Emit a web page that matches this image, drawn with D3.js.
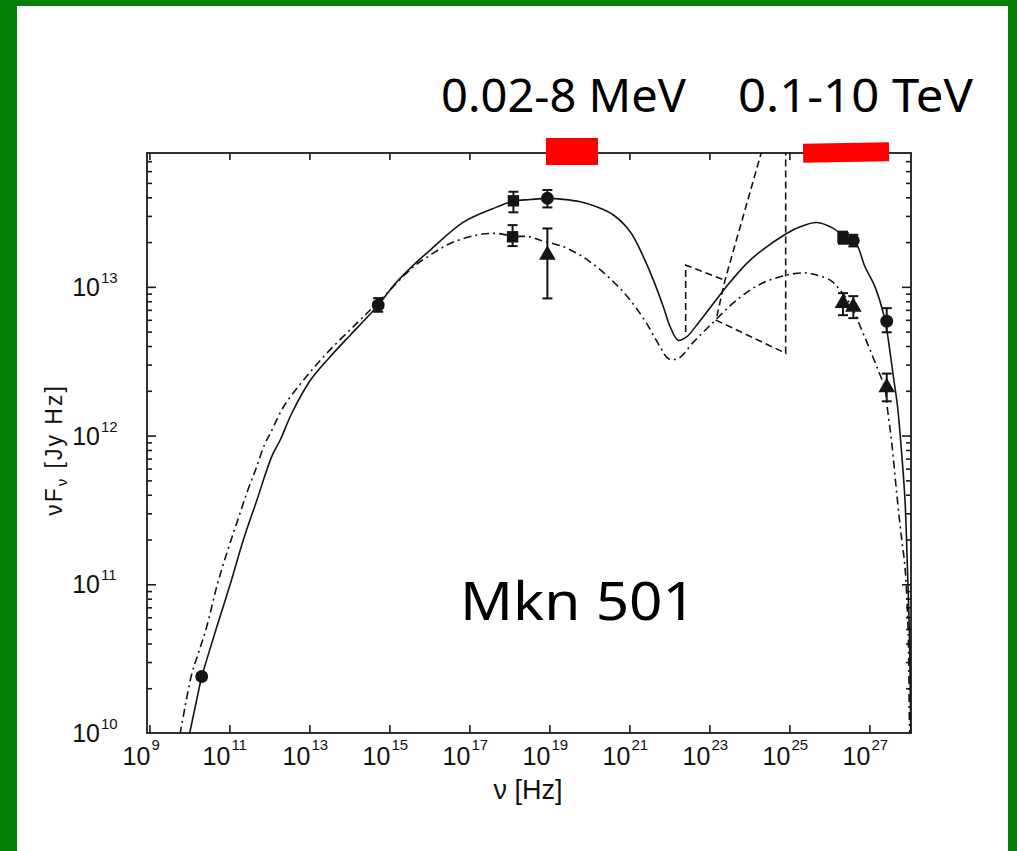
<!DOCTYPE html>
<html>
<head>
<meta charset="utf-8">
<script src="https://cdn.jsdelivr.net/npm/d3@7"></script>
<style>
  html, body { margin: 0; padding: 0; background: #fff; }
  svg { display: block; }
</style>
</head>
<body>
<svg id="chart" width="1017" height="851"></svg>
<script>
// Mkn 501 spectral energy distribution: two flux states with SSC model curves

const xTickExponents = [9, 11, 13, 15, 17, 19, 21, 23, 25, 27];
const yTickExponents = [10, 11, 12, 13];

// Model curves as [log10 ν (Hz), log10 νFν (Jy Hz)]
const highStateModel = [
  [10.00, 9.99], [10.18, 10.22], [10.31, 10.38], [10.43, 10.49], [10.68, 10.71],
  [11.02, 11.00], [11.35, 11.30], [11.68, 11.56], [12.06, 11.86], [12.27, 11.97],
  [12.56, 12.15], [13.02, 12.37], [13.52, 12.53], [14.02, 12.675], [14.52, 12.817],
  [14.72, 12.877], [15.18, 13.032], [15.68, 13.166], [16.02, 13.247], [16.85, 13.435],
  [17.68, 13.536], [18.10, 13.577], [18.52, 13.587], [18.93, 13.595], [19.35, 13.588],
  [19.77, 13.572], [20.18, 13.538], [20.60, 13.483], [21.02, 13.370], [21.35, 13.202],
  [21.60, 13.045], [21.85, 12.865], [22.02, 12.731], [22.22, 12.641], [22.43, 12.664],
  [22.68, 12.742], [23.10, 12.888], [23.52, 13.032], [24.02, 13.180], [24.93, 13.359],
  [25.27, 13.404], [25.68, 13.433], [26.10, 13.393], [26.39, 13.331], [26.64, 13.303],
  [26.89, 13.135], [27.14, 13.000], [27.39, 12.776], [27.52, 12.552], [27.60, 12.394],
  [27.70, 12.204], [27.79, 11.935], [27.89, 11.565], [27.95, 11.116], [28.00, 10.670],
  [28.03, 10.106], [28.04, 9.95]
];

const lowStateModel = [
  [9.765, 9.99], [9.89, 10.174], [10.06, 10.398], [10.22, 10.533], [10.43, 10.712],
  [10.68, 10.981], [10.93, 11.206], [11.18, 11.408], [11.43, 11.610], [11.68, 11.789],
  [11.89, 11.946], [12.02, 12.013], [12.35, 12.192], [12.85, 12.372], [13.43, 12.552],
  [14.18, 12.754], [14.72, 12.897], [15.60, 13.135], [16.02, 13.213], [16.52, 13.292],
  [17.18, 13.348], [17.68, 13.359], [18.10, 13.341], [18.52, 13.336], [18.77, 13.314],
  [19.35, 13.269], [19.77, 13.213], [20.18, 13.135], [20.60, 13.034], [21.02, 12.911],
  [21.43, 12.754], [21.77, 12.596], [21.97, 12.518], [22.22, 12.518], [22.60, 12.628],
  [23.02, 12.742], [23.68, 12.911], [24.27, 13.018], [24.93, 13.079], [25.43, 13.094],
  [25.68, 13.079], [26.02, 13.045], [26.27, 12.978], [26.56, 12.865], [26.81, 12.709],
  [27.02, 12.574], [27.22, 12.439], [27.39, 12.316], [27.44, 12.204], [27.56, 11.946],
  [27.70, 11.565], [27.81, 11.295], [27.89, 11.116], [27.97, 10.670], [28.00, 10.084],
  [28.015, 9.95]
];

// Gamma-ray butterfly outline, two open pieces, [log10 ν, log10 νFν]
const butterflyLeft = [[22.407, 12.697], [22.407, 13.146], [23.39, 13.045]];
const butterflyRight = [[24.39, 13.99], [23.39, 13.045], [23.165, 12.776], [24.907, 12.554], [24.907, 13.99]];

// Observations: ν (Hz), νFν and its error range (Jy Hz), symbol
const highStateData = [
  { nu: 2.03e10, f: 2.40e10, lo: 2.28e10, hi: 2.52e10, sym: "circle" },
  { nu: 5.25e14, f: 7.53e12, lo: 6.80e12, hi: 8.40e12, sym: "circle" },
  { nu: 1.26e18, f: 3.79e13, lo: 3.17e13, hi: 4.36e13, sym: "square" },
  { nu: 8.90e18, f: 3.94e13, lo: 3.42e13, hi: 4.48e13, sym: "circle" },
  { nu: 2.19e26, f: 2.14e13, lo: 1.95e13, hi: 2.35e13, sym: "square" },
  { nu: 3.96e26, f: 2.05e13, lo: 1.87e13, hi: 2.24e13, sym: "circle" },
  { nu: 2.71e27, f: 5.88e12, lo: 4.95e12, hi: 7.19e12, sym: "circle" }
];

const lowStateData = [
  { nu: 1.20e18, f: 2.17e13, lo: 1.88e13, hi: 2.60e13, sym: "square" },
  { nu: 8.90e18, f: 1.64e13, lo: 8.36e12, hi: 2.47e13, sym: "triangle" },
  { nu: 2.19e26, f: 7.76e12, lo: 6.45e12, hi: 9.07e12, sym: "triangle" },
  { nu: 3.96e26, f: 7.33e12, lo: 6.16e12, hi: 8.66e12, sym: "triangle" },
  { nu: 2.71e27, f: 2.11e12, lo: 1.70e12, hi: 2.61e12, sym: "triangle" }
];

// Energy bands marked above the plot (ν range in Hz)
const bandNames = ["0.02-8 MeV", "0.1-10 TeV"];
const bandRanges = [[8.2e18, 1.64e20], [2.2e25, 3.1e27]];

const sourceName = "Mkn 501";

// ---------------------------------------------------------------------------
const svg = d3.select("#chart");
const W = 1017, H = 851;
const plot = { left: 147, right: 911, top: 153, bottom: 733 };

svg.append("rect").attr("width", W).attr("height", H).attr("fill", "#fff");

// green page frame
const frameGreen = "#067f06";
svg.append("rect").attr("x", 0).attr("y", 0).attr("width", 17).attr("height", H).attr("fill", frameGreen);
svg.append("rect").attr("x", 0).attr("y", 0).attr("width", W).attr("height", 6).attr("fill", frameGreen);
svg.append("rect").attr("x", 1008).attr("y", 0).attr("width", 9).attr("height", H).attr("fill", frameGreen);

const x = d3.scaleLog().domain([Math.pow(10, 8.94), Math.pow(10, 28.04)]).range([plot.left, plot.right]);
const y = d3.scaleLog().domain([1e10, Math.pow(10, 13.9)]).range([plot.bottom, plot.top]);

const axisColor = "#1b1b1b";
const tickFont = "'Liberation Sans', Arial, Helvetica, sans-serif";

// minor y values 2..9 × 10^n inside the domain
const yMinor = [];
yTickExponents.forEach(e => {
  for (let k = 2; k <= 9; k++) {
    const v = k * Math.pow(10, e);
    if (v < y.domain()[1]) yMinor.push(v);
  }
});
const xMajor = xTickExponents.map(e => Math.pow(10, e));
const yMajor = yTickExponents.map(e => Math.pow(10, e));

function styleAxis(g) {
  g.select(".domain").remove();
  g.selectAll("line").attr("stroke", axisColor).attr("stroke-width", 1.6);
  g.selectAll("text").remove();
}

// bottom and top ticks (inward)
svg.append("g").attr("transform", `translate(0,${plot.bottom})`)
  .call(d3.axisBottom(x).tickValues(xMajor).tickSize(-8).tickFormat(""))
  .call(styleAxis);
svg.append("g").attr("transform", `translate(0,${plot.top})`)
  .call(d3.axisTop(x).tickValues(xMajor.filter(v => v > x.domain()[0])).tickSize(-7).tickFormat(""))
  .call(styleAxis);

// left and right ticks (inward), majors and minors
svg.append("g").attr("transform", `translate(${plot.left},0)`)
  .call(d3.axisLeft(y).tickValues(yMajor.filter(v => v > y.domain()[0])).tickSize(-9).tickFormat(""))
  .call(styleAxis);
svg.append("g").attr("transform", `translate(${plot.left},0)`)
  .call(d3.axisLeft(y).tickValues(yMinor).tickSize(-5).tickFormat(""))
  .call(styleAxis);
svg.append("g").attr("transform", `translate(${plot.right},0)`)
  .call(d3.axisRight(y).tickValues(yMajor.filter(v => v > y.domain()[0])).tickSize(-9).tickFormat(""))
  .call(styleAxis);
svg.append("g").attr("transform", `translate(${plot.right},0)`)
  .call(d3.axisRight(y).tickValues(yMinor).tickSize(-5).tickFormat(""))
  .call(styleAxis);

// plot frame
svg.append("rect")
  .attr("x", plot.left).attr("y", plot.top)
  .attr("width", plot.right - plot.left).attr("height", plot.bottom - plot.top)
  .attr("fill", "none").attr("stroke", axisColor).attr("stroke-width", 1.8);

// tick labels: 10 with superscript exponent
const xLab = svg.append("g").attr("font-family", tickFont).attr("fill", "#111");
xTickExponents.forEach(e => {
  const px = x(Math.pow(10, e));
  xLab.append("text").attr("x", px + 1).attr("y", 765).attr("font-size", 25)
    .attr("text-anchor", "end").text("10");
  xLab.append("text").attr("x", px + 2).attr("y", 750).attr("font-size", 15)
    .attr("text-anchor", "start").text(e);
});
const yLab = svg.append("g").attr("font-family", tickFont).attr("fill", "#111");
yTickExponents.forEach(e => {
  const py = y(Math.pow(10, e));
  yLab.append("text").attr("x", 100).attr("y", py + 9).attr("font-size", 25)
    .attr("text-anchor", "end").text("10");
  yLab.append("text").attr("x", 101).attr("y", py - 4).attr("font-size", 15)
    .attr("text-anchor", "start").text(e);
});

// axis titles
svg.append("text")
  .attr("x", 528).attr("y", 799)
  .attr("text-anchor", "middle")
  .attr("font-family", tickFont).attr("font-size", 27).attr("fill", "#111")
  .text("ν [Hz]");

const yTitle = svg.append("text")
  .attr("transform", "translate(62,450) rotate(-90)")
  .attr("text-anchor", "middle")
  .attr("font-family", tickFont).attr("font-size", 23).attr("fill", "#111")
  .attr("letter-spacing", 2);
yTitle.append("tspan").text("νF");
yTitle.append("tspan").attr("font-size", 15).attr("dy", 5).text("ν");
yTitle.append("tspan").attr("dy", -5).text(" [Jy Hz]");

// clipped data area
svg.append("clipPath").attr("id", "plotClip")
  .append("rect")
  .attr("x", plot.left).attr("y", plot.top)
  .attr("width", plot.right - plot.left).attr("height", plot.bottom - plot.top);
const area = svg.append("g").attr("clip-path", "url(#plotClip)");

const logLine = d3.line()
  .x(d => x(Math.pow(10, d[0])))
  .y(d => y(Math.pow(10, d[1])))
  .curve(d3.curveCatmullRom.alpha(0.5));
const straight = d3.line()
  .x(d => x(Math.pow(10, d[0])))
  .y(d => y(Math.pow(10, d[1])));

const ink = "#141414";

[butterflyLeft, butterflyRight].forEach(piece => {
  area.append("path").attr("d", straight(piece))
    .attr("fill", "none").attr("stroke", ink).attr("stroke-width", 1.6)
    .attr("stroke-dasharray", "7,4");
});

area.append("path").attr("d", logLine(lowStateModel))
  .attr("fill", "none").attr("stroke", ink).attr("stroke-width", 1.6)
  .attr("stroke-dasharray", "8,4,2,4");

area.append("path").attr("d", logLine(highStateModel))
  .attr("fill", "none").attr("stroke", ink).attr("stroke-width", 1.6);

// observations with error bars
const symbolPath = {
  circle: d3.symbol().type(d3.symbolCircle).size(130)(),
  square: d3.symbol().type(d3.symbolSquare).size(130)(),
  triangle: d3.symbol().type(d3.symbolTriangle).size(120)()
};
function drawPoints(data) {
  const g = area.append("g");
  data.forEach(d => {
    const px = x(d.nu);
    const y0 = y(d.lo), y1 = y(d.hi);
    g.append("line").attr("x1", px).attr("x2", px).attr("y1", y0).attr("y2", y1)
      .attr("stroke", ink).attr("stroke-width", 2);
    [y0, y1].forEach(cy => {
      g.append("line").attr("x1", px - 5).attr("x2", px + 5).attr("y1", cy).attr("y2", cy)
        .attr("stroke", ink).attr("stroke-width", 2);
    });
    g.append("path").attr("d", symbolPath[d.sym])
      .attr("transform", `translate(${px},${y(d.f)})`)
      .attr("fill", ink);
  });
}
drawPoints(highStateData);
drawPoints(lowStateData);

// energy band bars above the frame
const bandBoxes = [{ top: 138, h: 27, tilt: 0 }, { top: 143, h: 19, tilt: -1 }];
bandRanges.forEach((r, i) => {
  const x0 = x(r[0]), x1 = x(r[1]);
  const b = bandBoxes[i];
  svg.append("rect")
    .attr("x", x0).attr("y", b.top).attr("width", x1 - x0).attr("height", b.h)
    .attr("fill", "#ff0000")
    .attr("transform", `rotate(${b.tilt},${(x0 + x1) / 2},${b.top + b.h / 2})`);
});

// band captions and source name
const captionFont = "'Noto Sans', 'Open Sans', sans-serif";
const captionPos = [{ x: 441, w: 245 }, { x: 738, w: 235 }];
bandNames.forEach((name, i) => {
  svg.append("text")
    .attr("x", captionPos[i].x).attr("y", 112)
    .attr("font-family", captionFont).attr("font-size", 46).attr("fill", "#000")
    .attr("textLength", captionPos[i].w).attr("lengthAdjust", "spacingAndGlyphs")
    .text(name);
});
svg.append("text")
  .attr("x", 460).attr("y", 620)
  .attr("font-family", captionFont).attr("font-size", 52).attr("fill", "#000")
  .attr("textLength", 236).attr("lengthAdjust", "spacingAndGlyphs")
  .text(sourceName);
</script>
</body>
</html>
